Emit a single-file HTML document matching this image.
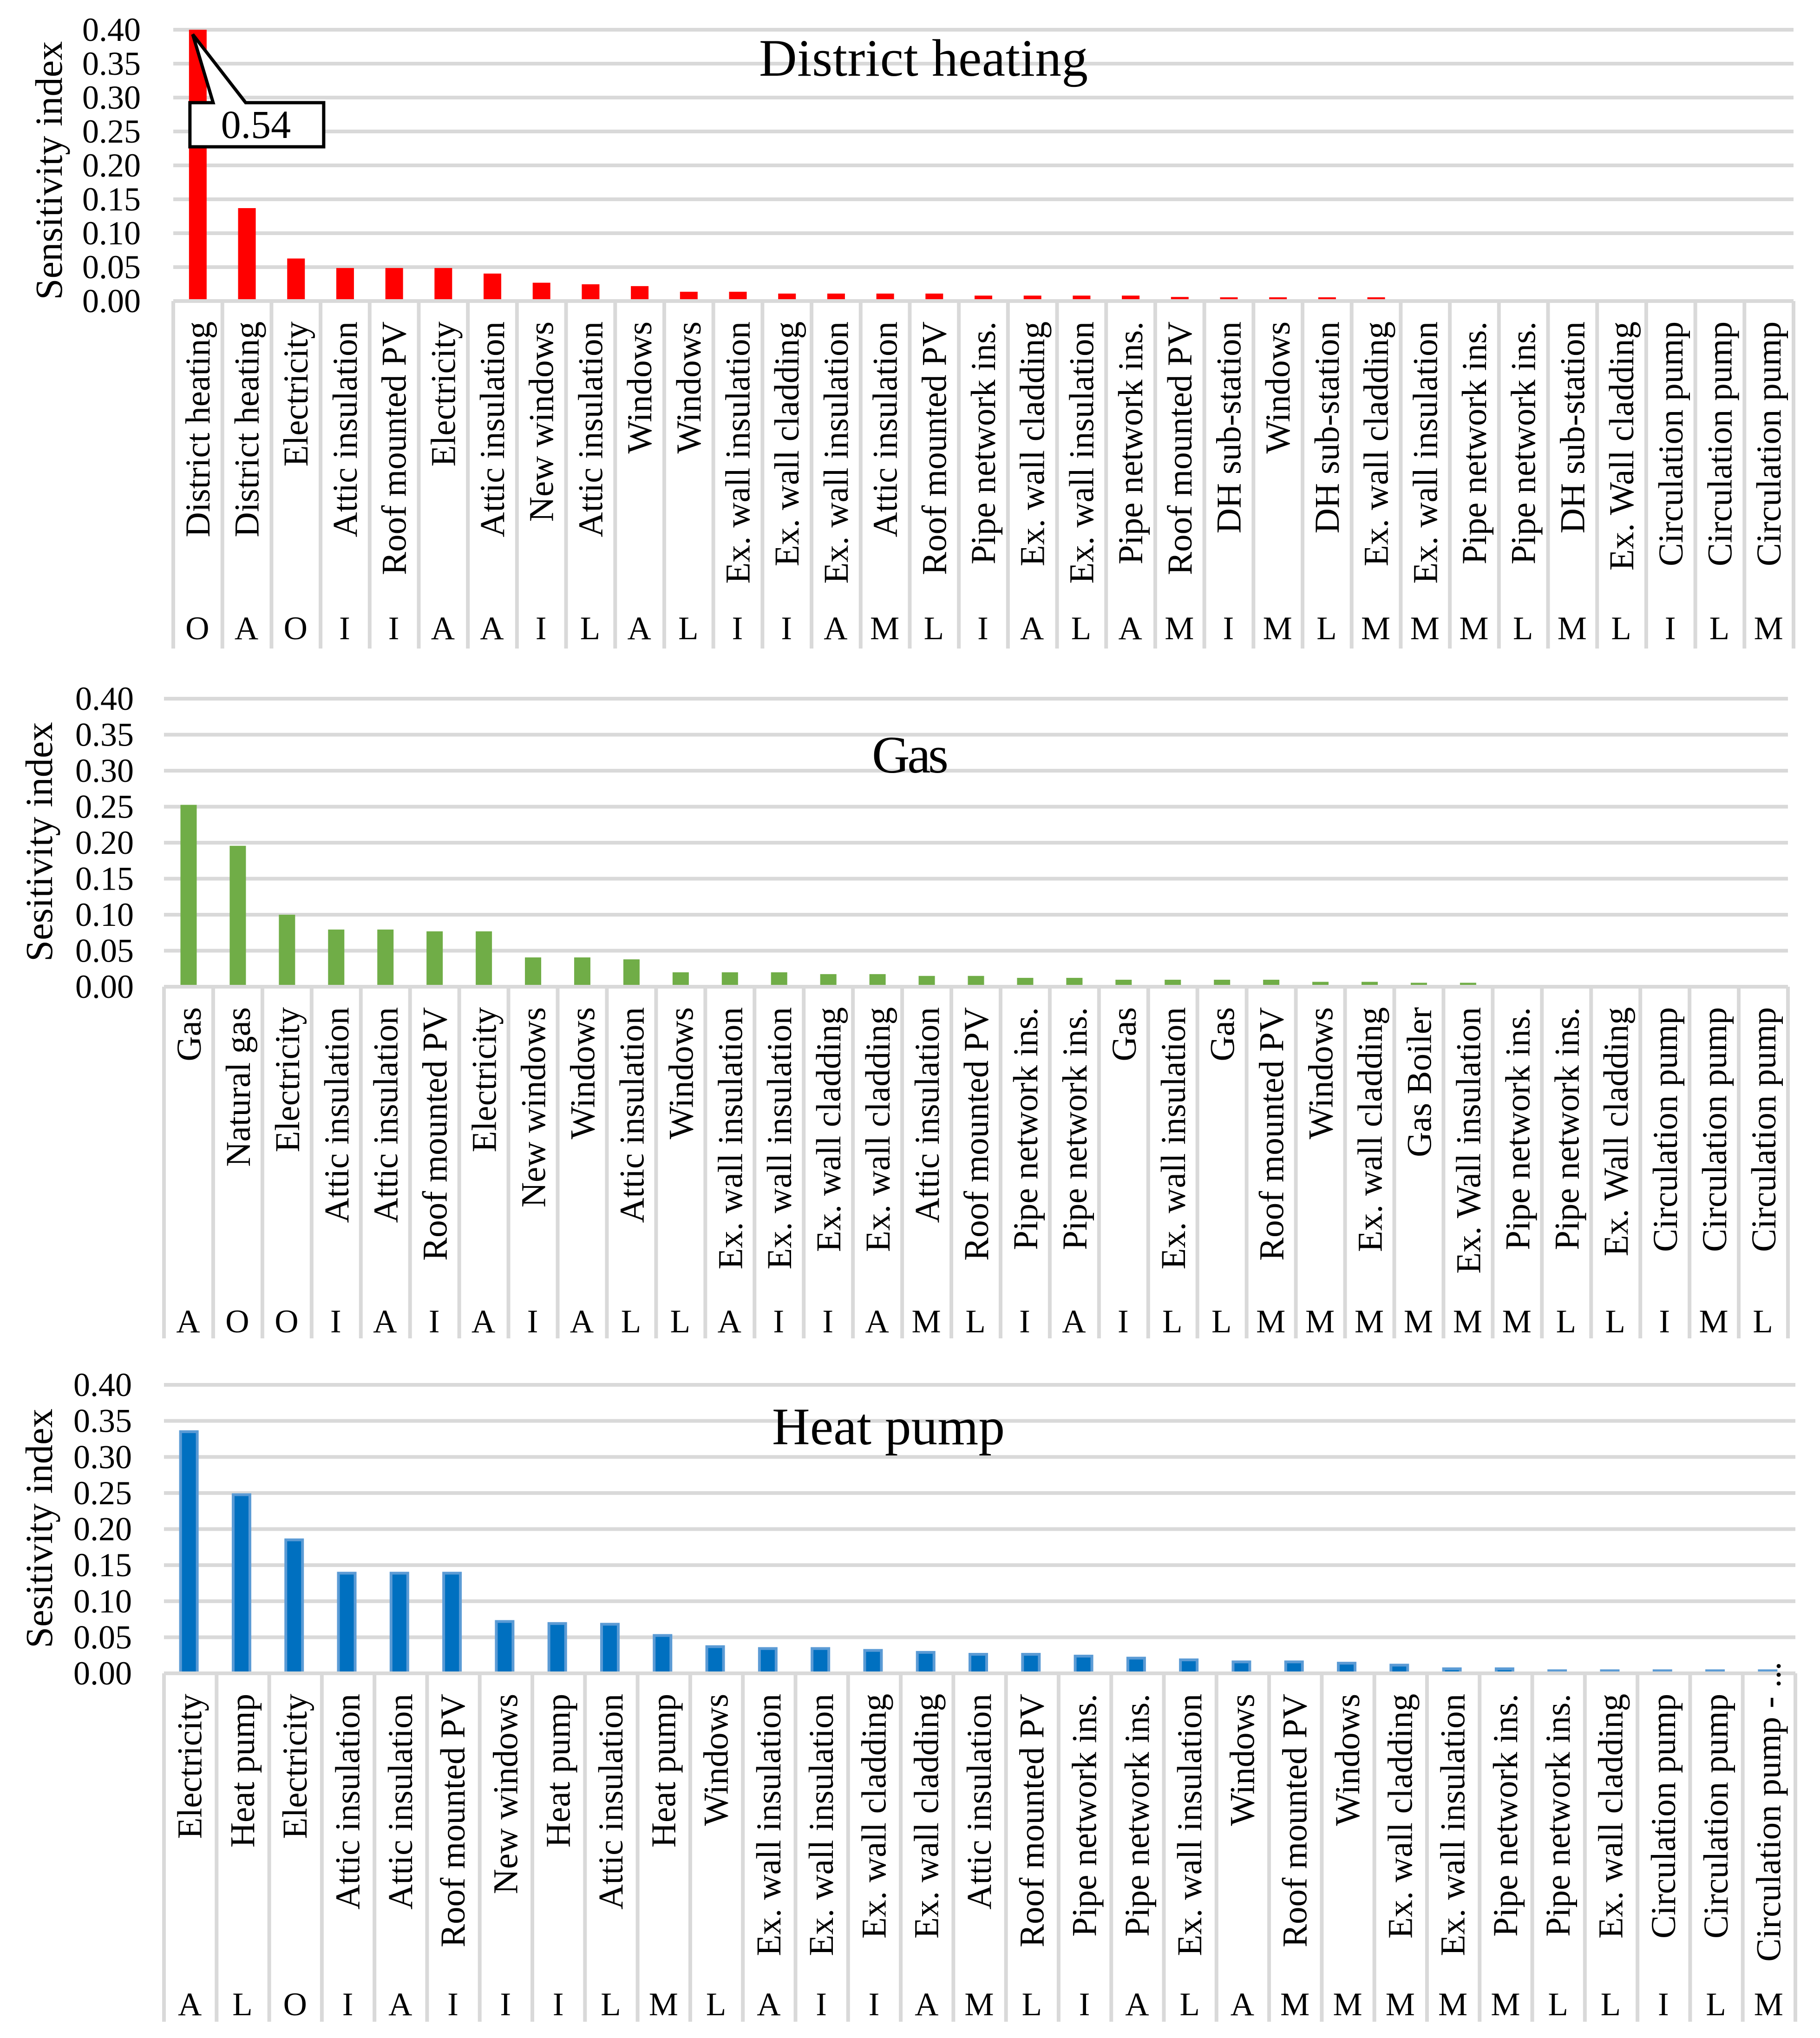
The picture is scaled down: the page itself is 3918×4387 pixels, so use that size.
<!DOCTYPE html>
<html lang="en">
<head>
<meta charset="utf-8">
<title>Sensitivity index by energy system</title>
<style>
  html, body { margin: 0; padding: 0; background: #fff; }
  svg { display: block; font-family: "Liberation Serif", serif; fill: #000; }
</style>
</head>
<body>
<svg id="figure" xmlns="http://www.w3.org/2000/svg" width="3918" height="4387" viewBox="0 0 3918 4387">
  <rect x="0" y="0" width="3918" height="4387" fill="#ffffff"></rect>
</svg>
<script>
// ---------- shared axis ticks ----------
const tickLabels = ['0.00', '0.05', '0.10', '0.15', '0.20', '0.25', '0.30', '0.35', '0.40'];

// ---------- District heating ----------
const dhCategories = ['District heating', 'District heating', 'Electricity', 'Attic insulation', 'Roof mounted PV', 'Electricity', 'Attic insulation', 'New windows', 'Attic insulation', 'Windows', 'Windows', 'Ex. wall insulation', 'Ex. wall cladding', 'Ex. wall insulation', 'Attic insulation', 'Roof mounted PV', 'Pipe network ins.', 'Ex. wall cladding', 'Ex. wall insulation', 'Pipe network ins.', 'Roof mounted PV', 'DH sub-station', 'Windows', 'DH sub-station', 'Ex. wall cladding', 'Ex. wall insulation', 'Pipe network ins.', 'Pipe network ins.', 'DH sub-station', 'Ex. Wall cladding', 'Circulation pump', 'Circulation pump', 'Circulation pump'];
const dhGroups = ['O', 'A', 'O', 'I', 'I', 'A', 'A', 'I', 'L', 'A', 'L', 'I', 'I', 'A', 'M', 'L', 'I', 'A', 'L', 'A', 'M', 'I', 'M', 'L', 'M', 'M', 'M', 'L', 'M', 'L', 'I', 'L', 'M'];
const dhValues = [0.54, 0.137, 0.0627, 0.0487, 0.0487, 0.0487, 0.0405, 0.027, 0.0247, 0.022, 0.0137, 0.0137, 0.011, 0.011, 0.011, 0.011, 0.008, 0.008, 0.008, 0.008, 0.006, 0.0055, 0.0055, 0.0055, 0.0055, 0, 0, 0, 0, 0, 0, 0, 0];

// ---------- Gas ----------
const gasCategories = ['Gas', 'Natural gas', 'Electricity', 'Attic insulation', 'Attic insulation', 'Roof mounted PV', 'Electricity', 'New windows', 'Windows', 'Attic insulation', 'Windows', 'Ex. wall insulation', 'Ex. wall insulation', 'Ex. wall cladding', 'Ex. wall cladding', 'Attic insulation', 'Roof mounted PV', 'Pipe network ins.', 'Pipe network ins.', 'Gas', 'Ex. wall insulation', 'Gas', 'Roof mounted PV', 'Windows', 'Ex. wall cladding', 'Gas Boiler', 'Ex. Wall insulation', 'Pipe network ins.', 'Pipe network ins.', 'Ex. Wall cladding', 'Circulation pump', 'Circulation pump', 'Circulation pump'];
const gasGroups = ['A', 'O', 'O', 'I', 'A', 'I', 'A', 'I', 'A', 'L', 'L', 'A', 'I', 'I', 'A', 'M', 'L', 'I', 'A', 'I', 'L', 'L', 'M', 'M', 'M', 'M', 'M', 'M', 'L', 'L', 'I', 'M', 'L'];
const gasValues = [0.2526, 0.1957, 0.1, 0.0794, 0.0794, 0.0769, 0.0769, 0.0407, 0.0407, 0.038, 0.02, 0.02, 0.02, 0.0175, 0.0175, 0.015, 0.015, 0.0123, 0.0123, 0.0097, 0.0097, 0.0097, 0.0097, 0.0068, 0.0068, 0.0055, 0.0055, 0, 0, 0, 0, 0, 0];

// ---------- Heat pump ----------
const hpCategories = ['Electricity', 'Heat pump', 'Electricity', 'Attic insulation', 'Attic insulation', 'Roof mounted PV', 'New windows', 'Heat pump', 'Attic insulation', 'Heat pump', 'Windows', 'Ex. wall insulation', 'Ex. wall insulation', 'Ex. wall cladding', 'Ex. wall cladding', 'Attic insulation', 'Roof mounted PV', 'Pipe network ins.', 'Pipe network ins.', 'Ex. wall insulation', 'Windows', 'Roof mounted PV', 'Windows', 'Ex. wall cladding', 'Ex. wall insulation', 'Pipe network ins.', 'Pipe network ins.', 'Ex. wall cladding', 'Circulation pump', 'Circulation pump', 'Circulation pump - ...'];
const hpGroups = ['A', 'L', 'O', 'I', 'A', 'I', 'I', 'I', 'L', 'M', 'L', 'A', 'I', 'I', 'A', 'M', 'L', 'I', 'A', 'L', 'A', 'M', 'M', 'M', 'M', 'M', 'L', 'L', 'I', 'L', 'M'];
const hpValues = [0.337, 0.2496, 0.187, 0.1408, 0.1408, 0.1408, 0.0738, 0.071, 0.07, 0.0544, 0.0389, 0.0363, 0.0363, 0.0337, 0.031, 0.0283, 0.0283, 0.0258, 0.023, 0.0206, 0.0178, 0.0178, 0.016, 0.0133, 0.0082, 0.0082, 0.0055, 0.0055, 0.0055, 0.0055, 0.0055];

const svgNS = 'http://www.w3.org/2000/svg';
const figure = document.getElementById('figure');
const axisMax = 0.4;

function make(tag, parent, props) {
  const el = document.createElementNS(svgNS, tag);
  for (const k in props) el.setAttribute(k, props[k]);
  parent.appendChild(el);
  return el;
}

function drawChart(cfg) {
  const g = make('g', figure, {});
  
  

  const n = cfg.categories.length;
  const band = (cfg.xEnd - cfg.xStart) / n;
  const xCenter = i => cfg.xStart + (i + 0.5) * band;
  const yScale = v => cfg.y0 - (Math.min(v, axisMax) / axisMax) * (cfg.y0 - cfg.yTop);

  // gridlines and tick labels
  tickLabels.forEach(label => {
    const v = parseFloat(label);
    const yy = yScale(v);
    if (v > 0) {
      const line = make('line', g, { x1: cfg.xStart, x2: cfg.xEnd, y1: yy, y2: yy, stroke: '#d9d9d9', 'stroke-width': 8 });
      
      
    }
    const t = make('text', g, { x: cfg.tickRight, y: yy + 24, 'text-anchor': 'end', 'font-size': 72 });
    t.textContent = label;
    
    
  });

  // y axis title
  const yt = make('text', g, { transform: 'translate(' + cfg.titleX + ',' + cfg.titleY + ') rotate(-90)', 'text-anchor': 'middle', 'font-size': 82.5 });
  yt.textContent = cfg.yTitle;
  
  

  // bars
  cfg.values.forEach((v, i) => {
    if (v <= 0) return;
    const top = yScale(v);
    const bx = xCenter(i) + cfg.barShift - cfg.barW / 2;
    const bar = make('rect', g, { x: bx, y: top, width: cfg.barW, height: cfg.y0 - top, fill: cfg.color });
    
    
    if (cfg.inner && cfg.y0 - top > 10) {
      const core = make('rect', g, { x: bx + 6, y: top + 6, width: cfg.barW - 12, height: cfg.y0 - top - 6, fill: cfg.inner });
      
      
    }
  });

  // x axis line
  const axis = make('line', g, { x1: cfg.xStart, x2: cfg.xEnd, y1: cfg.y0, y2: cfg.y0, stroke: '#d9d9d9', 'stroke-width': 8 });
  
  

  // category separators
  for (let i = 0; i <= n; i++) {
    const sx = cfg.xStart + i * band;
    const sep = make('line', g, { x1: sx, x2: sx, y1: cfg.y0, y2: cfg.sepBottom, stroke: '#d9d9d9', 'stroke-width': 8 });
    
    
  }

  // category labels and group letters
  cfg.categories.forEach((c, i) => {
    const lx = xCenter(i) + cfg.labelOffset;
    const ly = c.endsWith('...') ? cfg.y0 - 25 : cfg.y0 + 44;
    const t = make('text', g, { transform: 'translate(' + lx + ',' + ly + ') rotate(-90)', 'text-anchor': 'end', 'font-size': 75 });
    t.textContent = c;
    
    

    const l = make('text', g, { x: xCenter(i) - 1, y: cfg.groupBaseline, 'text-anchor': 'middle', 'font-size': 71 });
    l.textContent = cfg.groups[i];
    
    
  });

  // chart title
  const title = make('text', g, { x: cfg.headX, y: cfg.headY, 'font-size': 113, textLength: cfg.headLen, lengthAdjust: 'spacing' });
  title.textContent = cfg.head;
  
  

  // callout for a bar clipped by the axis
  cfg.values.forEach((v, i) => {
    if (v <= axisMax) return;
    const tipX = xCenter(i) - 11;
    const tipY = yScale(axisMax) + 10;
    const left = xCenter(i) - 17, right = left + 288, top = tipY + 147, bottom = top + 95;
    const box = make('path', g, {
      d: 'M' + left + ' ' + top + ' L' + (left + 50) + ' ' + top + ' L' + tipX + ' ' + tipY + ' L' + (left + 120) + ' ' + top + ' L' + right + ' ' + top + ' L' + right + ' ' + bottom + ' L' + left + ' ' + bottom + ' Z',
      fill: '#ffffff', stroke: '#000000', 'stroke-width': 7, 'stroke-linejoin': 'miter'
    });
    
    
    const label = make('text', g, { x: left + 142, y: bottom - 19, 'text-anchor': 'middle', 'font-size': 86 });
    label.textContent = v.toFixed(2);
    
    
  });
}

drawChart({
  key: 'district-heating', head: 'District heating', headX: 1634, headY: 163, headLen: 708,
  yTitle: 'Sensitivity index', titleX: 133, titleY: 367,
  categories: dhCategories, groups: dhGroups, values: dhValues,
  xStart: 373, xEnd: 3861, y0: 648, yTop: 64, tickRight: 303,
  sepBottom: 1396, groupBaseline: 1376, labelOffset: 25, barShift: 0,
  barW: 38, color: '#ff0000'
});

drawChart({
  key: 'gas', head: 'Gas', headX: 1877, headY: 1663, headLen: 165,
  yTitle: 'Sesitivity index', titleX: 112, titleY: 1812,
  categories: gasCategories, groups: gasGroups, values: gasValues,
  xStart: 353, xEnd: 3849, y0: 2124, yTop: 1504, tickRight: 288,
  sepBottom: 2881, groupBaseline: 2868, labelOffset: 26, barShift: 0,
  barW: 35, color: '#70ad47'
});

drawChart({
  key: 'heat-pump', head: 'Heat pump', headX: 1662, headY: 3109, headLen: 501,
  yTitle: 'Sesitivity index', titleX: 112, titleY: 3290,
  categories: hpCategories, groups: hpGroups, values: hpValues,
  xStart: 353, xEnd: 3865, y0: 3602, yTop: 2981, tickRight: 284,
  sepBottom: 4352, groupBaseline: 4338, labelOffset: 24, barShift: -3,
  barW: 42, color: '#5b9bd5', inner: '#0070c0'
});
</script>
</body>
</html>
